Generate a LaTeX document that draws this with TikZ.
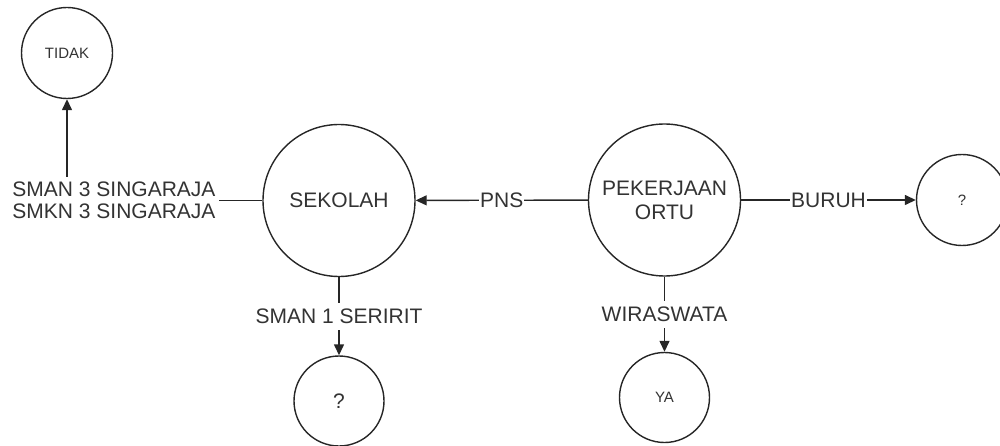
\documentclass[tikz,border=0pt]{standalone}
\usepackage{fontspec}
\setmainfont{Liberation Sans}
\usetikzlibrary{arrows.meta}
\begin{document}
\begin{tikzpicture}[x=1pt,y=-1pt,
  ent/.style={circle,draw=black!85,line width=1.4pt,inner sep=0pt,text=black!80},
  bigent/.style={ent,minimum size=152pt,font=\fontsize{21}{24}\selectfont,align=center},
  smallent/.style={ent,minimum size=91pt,font=\fontsize{15}{17}\selectfont},
  conn/.style={draw=black!85,line width=1.4pt,-{Triangle[length=11pt,width=10pt]}},
  lbl/.style={fill=white,inner xsep=1pt,inner ysep=6pt,text=black!80,font=\fontsize{21}{22}\selectfont,align=center}]
\useasboundingbox (0,0) rectangle (1000,446);
\node[smallent] (tidak) at (67,53) {TIDAK};
\node[bigent] (sek) at (339,200.5) {SEKOLAH};
\node[bigent] (pek) at (664.5,200) {PEKERJAAN\\ORTU};
\node[smallent] (qr) at (962,200) {?};
\node[smallent,minimum size=90pt,font=\fontsize{21}{23}\selectfont] (qb) at (339,401) {?};
\node[smallent,minimum size=90pt] (ya) at (664.5,397.5) {YA};
\draw[conn] (sek.west) -| (tidak.south);
\node[lbl,inner xsep=3pt,inner ysep=5pt] (l1) at (114,200) {SMAN 3 SINGARAJA\\SMKN 3 SINGARAJA};
\draw[conn] (pek) -- node[lbl] (l2) {PNS} (sek);
\draw[conn] (pek) -- node[lbl] (l3) {BURUH} (qr);
\draw[conn] (sek) -- node[lbl] (l4) {SMAN 1 SERIRIT} (qb);
\draw[conn] (pek) -- node[lbl] (l5) {WIRASWATA} (ya);
\end{tikzpicture}
\end{document}
